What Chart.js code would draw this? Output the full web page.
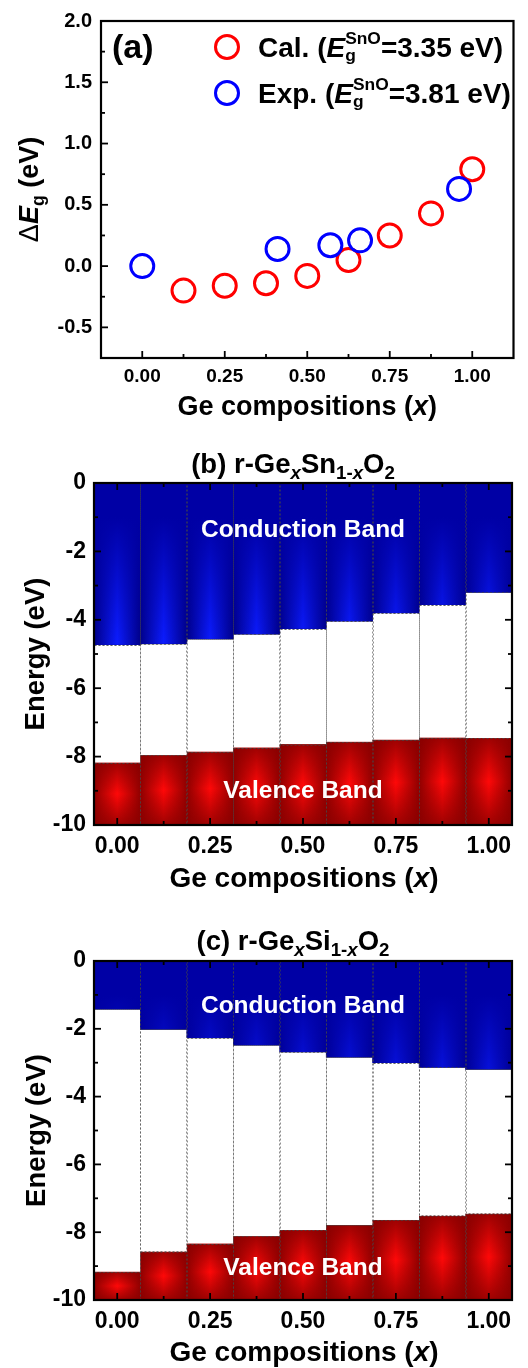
<!DOCTYPE html>
<html>
<head>
<meta charset="utf-8">
<script src="https://cdn.jsdelivr.net/npm/chart.js@4.4.0/dist/chart.umd.min.js"></script>
<style>
  body { margin: 0; background: #fff; }
  #page { position: relative; width: 528px; height: 1368px; }
  canvas { position: absolute; left: 0; }
</style>
</head>
<body>
<div id="page">
  <canvas id="chartA" width="528" height="425" style="top:0"></canvas>
  <canvas id="chartB" width="528" height="480" style="top:425px"></canvas>
  <canvas id="chartC" width="528" height="463" style="top:905px"></canvas>
</div>
<script>
// ---- values ----
// (a) band gap change vs Ge composition
const calX = [0.125, 0.25, 0.375, 0.5, 0.625, 0.75, 0.875, 1.0];
const calDeltaEg = [-0.20, -0.16, -0.14, -0.08, 0.05, 0.25, 0.43, 0.79];
const expX = [0.0, 0.41, 0.57, 0.66, 0.96];
const expDeltaEg = [0.00, 0.14, 0.17, 0.21, 0.63];

// (b), (c) band edges (eV) for each composition
const geX = [0, 0.125, 0.25, 0.375, 0.5, 0.625, 0.75, 0.875, 1.0];
const snCBM = [-4.73, -4.70, -4.56, -4.42, -4.26, -4.04, -3.80, -3.56, -3.20];
const snVBM = [-8.18, -7.96, -7.86, -7.74, -7.64, -7.57, -7.51, -7.45, -7.46];
const siCBM = [-1.42, -2.02, -2.26, -2.48, -2.68, -2.84, -3.00, -3.14, -3.20];
const siVBM = [-9.17, -8.58, -8.34, -8.12, -7.94, -7.79, -7.64, -7.52, -7.46];
const energyMin = -10;
const energyMax = 0;

// tick labels
const compTicks = [0, 0.25, 0.5, 0.75, 1.0];
const compTickLabels = ['0.00', '0.25', '0.50', '0.75', '1.00'];
const deltaTicks = [-0.5, 0, 0.5, 1.0, 1.5, 2.0];
const deltaTickLabels = ['-0.5', '0.0', '0.5', '1.0', '1.5', '2.0'];
const energyTicks = [-10, -8, -6, -4, -2, 0];
const energyTickLabels = ['-10', '-8', '-6', '-4', '-2', '0'];

const FONT = '"Liberation Sans", Arial, Helvetica, sans-serif';

// draw a line of text made of pieces (italic, sub/superscripts)
function drawRich(ctx, segs, x, y, base, align) {
  const fontOf = (s) => `${s.i ? 'italic ' : ''}${s.w || 'bold'} ${(base * (s.s || 1)).toFixed(1)}px ${FONT}`;
  const widths = segs.map(s => {
    if (s.sup !== undefined) {
      ctx.font = fontOf({ s: 0.62 });
      return Math.max(ctx.measureText(s.sup).width, ctx.measureText(s.sub).width);
    }
    ctx.font = fontOf(s);
    return ctx.measureText(s.t).width;
  });
  const total = widths.reduce((a, b) => a + b, 0);
  let cx = align === 'center' ? x - total / 2 : x;
  ctx.textAlign = 'left';
  ctx.textBaseline = 'alphabetic';
  segs.forEach((s, k) => {
    if (s.sup !== undefined) {
      ctx.font = fontOf({ s: 0.62 });
      ctx.fillText(s.sup, cx, y - 0.46 * base);
      ctx.fillText(s.sub, cx, y + 0.16 * base);
    } else {
      ctx.font = fontOf(s);
      ctx.fillText(s.t, cx + (s.dx || 0) * base, y + (s.dy || 0) * base);
    }
    cx += widths[k];
  });
}

// inward tick marks + frame around the plot area
function drawFrame(chart, spec) {
  const { ctx, chartArea: a, scales: { x, y } } = chart;
  const seg = (x1, y1, x2, y2) => { ctx.beginPath(); ctx.moveTo(x1, y1); ctx.lineTo(x2, y2); ctx.stroke(); };
  ctx.save();
  ctx.strokeStyle = '#000';
  ctx.lineWidth = 1.8;
  const xt = (vals, len) => vals.forEach(v => {
    const p = x.getPixelForValue(v);
    seg(p, a.bottom, p, a.bottom - len);
    if (spec.mirror) seg(p, a.top, p, a.top + len);
  });
  const yt = (vals, len) => vals.forEach(v => {
    const p = y.getPixelForValue(v);
    seg(a.left, p, a.left + len, p);
    if (spec.mirror) seg(a.right, p, a.right - len, p);
  });
  xt(spec.xMajor, spec.major); xt(spec.xMinor, spec.minor);
  yt(spec.yMajor, spec.major); yt(spec.yMinor, spec.minor);
  ctx.lineWidth = 2.2;
  ctx.strokeRect(a.left, a.top, a.width, a.height);
  ctx.restore();
}

const compTitle = [{ t: 'Ge compositions (' }, { t: 'x', i: true }, { t: ')' }];

function xScale(min, max, labelSize, pad, height) {
  return {
    type: 'linear', min: min, max: max, offset: false,
    grid: { display: false, drawTicks: false }, border: { display: false },
    afterBuildTicks: s => { s.ticks = compTicks.map(v => ({ value: v })); },
    afterFit: s => { s.height = height; },
    ticks: {
      callback: (v, i) => compTickLabels[i], color: '#000', padding: pad,
      font: { family: FONT, size: labelSize, weight: 'bold' }, maxRotation: 0, autoSkip: false
    }
  };
}

// ---------- (a) ----------
new Chart(document.getElementById('chartA'), {
  type: 'scatter',
  data: {
    datasets: [
      {
        label: 'Exp.', data: expX.map((x, i) => ({ x: x, y: expDeltaEg[i] })),
        borderColor: '#0000ff', backgroundColor: 'rgba(0,0,0,0)', pointRadius: 11.5, borderWidth: 3
      },
      {
        label: 'Cal.', data: calX.map((x, i) => ({ x: x, y: calDeltaEg[i] })),
        borderColor: '#ff0000', backgroundColor: 'rgba(0,0,0,0)', pointRadius: 11.5, borderWidth: 3
      }
    ]
  },
  options: {
    responsive: false, animation: false, devicePixelRatio: 1,
    layout: { padding: { top: 17, right: 8, left: 0, bottom: 0 } },
    plugins: { legend: { display: false }, tooltip: { enabled: false } },
    scales: {
      x: xScale(-0.125, 1.125, 19, 7, 67),
      y: {
        min: -0.75, max: 2.0,
        grid: { display: false, drawTicks: false }, border: { display: false },
        afterBuildTicks: s => { s.ticks = deltaTicks.map(v => ({ value: v })); },
        afterFit: s => { s.width = 101; },
        ticks: { callback: (v, i) => deltaTickLabels[i], color: '#000', padding: 9, font: { family: FONT, size: 20, weight: 'bold' } }
      }
    }
  },
  plugins: [{
    id: 'panelA',
    afterDraw(chart) {
      const ctx = chart.ctx;
      const a = chart.chartArea;
      drawFrame(chart, {
        mirror: false, major: 7, minor: 4,
        xMajor: compTicks, xMinor: [0.125, 0.375, 0.625, 0.875],
        yMajor: deltaTicks, yMinor: [-0.25, 0.25, 0.75, 1.25, 1.75]
      });
      ctx.save();
      ctx.fillStyle = '#000';
      drawRich(ctx, [{ t: '(a)' }], 112, 58, 34);
      // legend
      const items = [['#ff0000', 'Cal. (', '=3.35 eV)', 47, 57], ['#0000ff', 'Exp. (', '=3.81 eV)', 93, 103]];
      items.forEach(([col, pre, post, cy, by]) => {
        ctx.strokeStyle = col; ctx.lineWidth = 3;
        ctx.beginPath(); ctx.arc(227, cy, 11.5, 0, Math.PI * 2); ctx.stroke();
        ctx.fillStyle = '#000';
        drawRich(ctx, [{ t: pre }, { t: 'E', i: true }, { sup: 'SnO', sub: 'g' }, { t: post }], 258, by, 28);
      });
      // axis titles
      drawRich(ctx, compTitle, (a.left + a.right) / 2, 415, 27, 'center');
      ctx.translate(38, (a.top + a.bottom) / 2);
      ctx.rotate(-Math.PI / 2);
      drawRich(ctx, [{ t: '\u0394', w: 'normal' }, { t: 'E', i: true }, { t: 'g', s: 0.65, dy: 0.22 }, { t: ' (eV)' }], 0, 0, 27, 'center');
      ctx.restore();
    }
  }]
});

// ---------- (b), (c) ----------
function paintBars(chart) {
  const { ctx, chartArea: a, scales: { y } } = chart;
  ctx.save();
  ctx.beginPath(); ctx.rect(a.left, a.top, a.width, a.height); ctx.clip();
  const rects = [];
  chart.data.datasets.forEach((ds, di) => {
    chart.getDatasetMeta(di).data.forEach(el => {
      const p = el.getProps(['x', 'y', 'base', 'width'], true);
      const l = p.x - p.width / 2, r = p.x + p.width / 2;
      const t = Math.min(p.y, p.base), b = Math.max(p.y, p.base);
      rects.push([l, t, r, b]);
      if (ds.band === 'cb') {
        const g = ctx.createLinearGradient(l, 0, r, 0);
        g.addColorStop(0, '#000088'); g.addColorStop(0.5, '#0c1cff'); g.addColorStop(1, '#000088');
        ctx.fillStyle = g; ctx.fillRect(l, t, r - l, b - t);
        const v = ctx.createLinearGradient(0, y.getPixelForValue(-1.0), 0, y.getPixelForValue(-4.7));
        v.addColorStop(0, 'rgba(0,0,165,1)'); v.addColorStop(1, 'rgba(0,0,165,0)');
        ctx.fillStyle = v; ctx.fillRect(l, t, r - l, b - t);
      } else if (ds.band === 'vb') {
        const g = ctx.createLinearGradient(l, 0, r, 0);
        g.addColorStop(0, '#900000'); g.addColorStop(0.5, '#ff0808'); g.addColorStop(1, '#900000');
        ctx.fillStyle = g; ctx.fillRect(l, t, r - l, b - t);
        const v = ctx.createLinearGradient(0, t, 0, b);
        v.addColorStop(0, 'rgba(135,0,0,0.8)'); v.addColorStop(0.5, 'rgba(135,0,0,0)'); v.addColorStop(1, 'rgba(135,0,0,0.8)');
        ctx.fillStyle = v; ctx.fillRect(l, t, r - l, b - t);
      }
    });
  });
  ctx.setLineDash([2, 2]);
  ctx.lineWidth = 1;
  ctx.strokeStyle = 'rgba(70,70,70,0.6)';
  rects.forEach(([l, t, r, b]) => {
    ctx.strokeRect(Math.round(l) + 0.5, Math.round(t) + 0.5, Math.round(r - l), Math.round(b - t));
  });
  ctx.restore();
}

function bandChart(id, cbm, vbm, spec) {
  return new Chart(document.getElementById(id), {
    type: 'bar',
    data: {
      datasets: [
        { band: 'cb', data: geX.map((x, i) => ({ x: x, y: [cbm[i], energyMax] })), backgroundColor: '#0000b0' },
        { band: 'gap', data: geX.map((x, i) => ({ x: x, y: [vbm[i], cbm[i]] })), backgroundColor: '#ffffff' },
        { band: 'vb', data: geX.map((x, i) => ({ x: x, y: [energyMin, vbm[i]] })), backgroundColor: '#c00000' }
      ]
    },
    options: {
      responsive: false, animation: false, devicePixelRatio: 1,
      datasets: { bar: { grouped: false, barPercentage: 1, categoryPercentage: 1, borderWidth: 0 } },
      layout: { padding: { top: spec.top, right: 16, left: 0, bottom: 0 } },
      plugins: { legend: { display: false }, tooltip: { enabled: false } },
      scales: {
        x: xScale(-0.0625, 1.0625, 23, 8, spec.xHeight),
        y: {
          min: energyMin, max: energyMax,
          grid: { display: false, drawTicks: false }, border: { display: false },
          afterBuildTicks: s => { s.ticks = energyTicks.map(v => ({ value: v })); },
          afterFit: s => { s.width = 94; },
          ticks: { callback: (v, i) => energyTickLabels[i], color: '#000', padding: 8, font: { family: FONT, size: 23, weight: 'bold' } }
        }
      }
    },
    plugins: [{
      id: 'bands',
      afterDatasetsDraw(chart) { paintBars(chart); },
      afterDraw(chart) {
        const ctx = chart.ctx;
        const a = chart.chartArea;
        const y = chart.scales.y;
        drawFrame(chart, {
          mirror: true, major: 7, minor: 4,
          xMajor: compTicks, xMinor: [0.125, 0.375, 0.625, 0.875],
          yMajor: energyTicks, yMinor: [-9, -7, -5, -3, -1]
        });
        ctx.save();
        const cx = (a.left + a.right) / 2;
        ctx.fillStyle = '#fff';
        ctx.font = `bold 24.5px ${FONT}`;
        ctx.textAlign = 'center';
        ctx.textBaseline = 'middle';
        ctx.fillText('Conduction Band', cx, y.getPixelForValue(spec.cbLabel));
        ctx.fillText('Valence Band', cx, y.getPixelForValue(spec.vbLabel));
        ctx.fillStyle = '#000';
        drawRich(ctx, spec.title, 293, spec.titleY, 27.5, 'center');
        drawRich(ctx, compTitle, 304, spec.xTitleY, 28, 'center');
        ctx.translate(spec.yTitleX, (a.top + a.bottom) / 2);
        ctx.rotate(-Math.PI / 2);
        drawRich(ctx, [{ t: 'Energy (eV)' }], 0, 0, 27.5, 'center');
        ctx.restore();
      }
    }]
  });
}

bandChart('chartB', snCBM, snVBM, {
  top: 58, xHeight: 80, titleY: 48, xTitleY: 462, yTitleX: 44, cbLabel: -1.37, vbLabel: -9.0,
  title: [{ t: '(b) r-Ge' }, { t: 'x', i: true, s: 0.68, dy: 0.22 }, { t: 'Sn' },
          { t: '1-', s: 0.68, dy: 0.22 }, { t: 'x', i: true, s: 0.68, dy: 0.22 }, { t: 'O' }, { t: '2', s: 0.68, dy: 0.22 }]
});

bandChart('chartC', siCBM, siVBM, {
  top: 56, xHeight: 68, titleY: 45, xTitleY: 456, yTitleX: 45, cbLabel: -1.33, vbLabel: -9.06,
  title: [{ t: '(c) r-Ge' }, { t: 'x', i: true, s: 0.68, dy: 0.22 }, { t: 'Si' },
          { t: '1-', s: 0.68, dy: 0.22 }, { t: 'x', i: true, s: 0.68, dy: 0.22 }, { t: 'O' }, { t: '2', s: 0.68, dy: 0.22 }]
});
</script>
</body>
</html>
